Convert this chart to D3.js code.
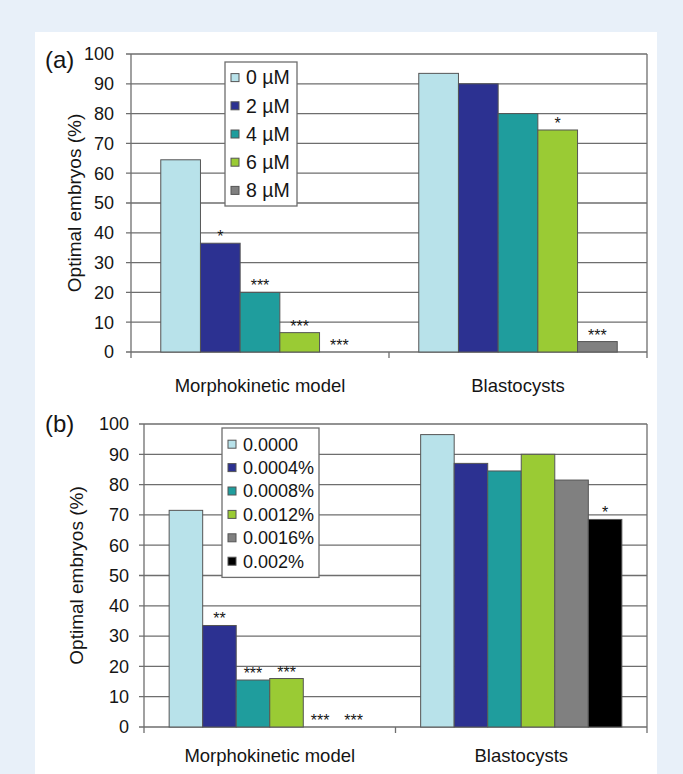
<!DOCTYPE html>
<html>
    <head>
        <meta charset="utf-8">
        <script src="https://d3js.org/d3.v7.min.js"></script>
        <title>Optimal embryos</title>
        <style>
            body {margin: 0; background-color: #e8f0f9;}
            text {font-family: "Liberation Sans", Arial, sans-serif; fill: #151515;}
        </style>
    </head>
    <body>
        <script>
            // data
            const categories = ['Morphokinetic model', 'Blastocysts']
            const yTicks = [0, 10, 20, 30, 40, 50, 60, 70, 80, 90, 100]

            const seriesA = ['0 µM', '2 µM', '4 µM', '6 µM', '8 µM']
            const valuesA = [[64.5, 93.5], [36.5, 90], [20, 80], [6.5, 74.5], [0, 3.5]]
            const starsA = [['', ''], ['*', ''], ['***', ''], ['***', '*'], ['***', '***']]

            const seriesB = ['0.0000', '0.0004%', '0.0008%', '0.0012%', '0.0016%', '0.002%']
            const valuesB = [[71.5, 96.5], [33.5, 87], [15.5, 84.5], [16, 90], [0, 81.5], [0, 68.5]]
            const starsB = [['', ''], ['**', ''], ['***', ''], ['***', ''], ['***', ''], ['***', '*']]

            const colors = ['#b8e2ea', '#2c3191', '#1f9d9d', '#9acb34', '#808080', '#000000']

            const width = 683
            const height = 774
            const gridColor = '#6e6e6e'
            const edgeColor = '#555'

            const svg = d3.select('body')
                .append('svg')
                    .attr('width', width)
                    .attr('height', height)

            svg.append('rect')
                .attr('width', width).attr('height', height)
                .attr('fill', '#e8f0f9')
            svg.append('rect')
                .attr('x', 35).attr('y', 32)
                .attr('width', 622).attr('height', height - 32)
                .attr('fill', 'white')

            const drawPanel = (p) => {
                const g = svg.append('g')
                const y = d3.scaleLinear().domain([0, 100]).range([p.bottom, p.top])
                const x0 = d3.scaleBand().domain(categories).range([p.left, p.right])
                const x1 = d3.scaleBand()
                    .domain(p.series)
                    .range([0, x0.bandwidth()])
                    .paddingOuter(0.75)

                // gridlines + left ticks
                g.selectAll('.grid')
                    .data(yTicks)
                    .enter()
                    .append('line')
                        .attr('x1', p.left - 5)
                        .attr('x2', p.right)
                        .attr('y1', d => y(d))
                        .attr('y2', d => y(d))
                        .attr('stroke', gridColor)
                        .attr('stroke-width', 1.3)

                g.selectAll('.ytick')
                    .data(yTicks)
                    .enter()
                    .append('text')
                        .attr('x', p.left - p.labelGap)
                        .attr('y', d => y(d))
                        .attr('dy', '0.35em')
                        .attr('text-anchor', 'end')
                        .attr('font-size', 18)
                        .text(d => d)

                // left axis, right border and category ticks
                const vx = [p.left, x0(categories[1]), p.right]
                g.selectAll('.vline')
                    .data(vx)
                    .enter()
                    .append('line')
                        .attr('x1', d => d)
                        .attr('x2', d => d)
                        .attr('y1', (d, i) => i === 1 ? y(0) : y(100))
                        .attr('y2', y(0) + 6)
                        .attr('stroke', gridColor)
                        .attr('stroke-width', 1.3)

                // bars
                p.series.forEach((s, si) => {
                    const rows = categories.map((c, ci) => ({c: c, v: p.values[si][ci], star: p.stars[si][ci]}))
                    const sg = g.append('g')
                    sg.selectAll('rect')
                        .data(rows.filter(d => d.v > 0))
                        .enter()
                        .append('rect')
                            .attr('x', d => x0(d.c) + x1(s))
                            .attr('y', d => y(d.v))
                            .attr('width', x1.bandwidth())
                            .attr('height', d => y(0) - y(d.v))
                            .attr('fill', colors[si])
                            .attr('stroke', edgeColor)
                            .attr('stroke-width', 1)
                    sg.selectAll('text')
                        .data(rows.filter(d => d.star))
                        .enter()
                        .append('text')
                            .attr('x', d => x0(d.c) + x1(s) + x1.bandwidth() / 2)
                            .attr('y', d => y(d.v) - 1)
                            .attr('text-anchor', 'middle')
                            .attr('font-size', 16)
                            .text(d => d.star)
                })

                // category labels
                g.selectAll('.cat')
                    .data(categories)
                    .enter()
                    .append('text')
                        .attr('x', d => x0(d) + x0.bandwidth() / 2)
                        .attr('y', p.catY)
                        .attr('text-anchor', 'middle')
                        .attr('font-size', 18.5)
                        .text(d => d)

                // y title
                g.append('text')
                    .attr('transform', `translate(${p.titleX},${(p.top + p.bottom) / 2}) rotate(-90)`)
                    .attr('dy', '0.35em')
                    .attr('text-anchor', 'middle')
                    .attr('font-size', 19)
                    .text('Optimal embryos (%)')

                // panel letter
                g.append('text')
                    .attr('x', 45)
                    .attr('y', p.letterY)
                    .attr('font-size', 24)
                    .text(p.letter)

                // legend
                const L = p.legend
                const lg = g.append('g').attr('transform', `translate(${L.x},${L.y})`)
                lg.append('rect')
                    .attr('width', L.w)
                    .attr('height', p.series.length * L.step + 2 * L.pad)
                    .attr('fill', 'white')
                    .attr('stroke', gridColor)
                    .attr('stroke-width', 1.3)
                const items = lg.selectAll('.item')
                    .data(p.series)
                    .enter()
                    .append('g')
                        .attr('transform', (d, i) => `translate(0,${L.pad + L.step * (i + 0.5)})`)
                items.append('rect')
                    .attr('x', 6).attr('y', -4)
                    .attr('width', 8).attr('height', 8)
                    .attr('fill', (d, i) => colors[i])
                    .attr('stroke', edgeColor)
                items.append('text')
                    .attr('x', 21)
                    .attr('dy', '0.35em')
                    .attr('font-size', L.font)
                    .text(d => d)
            }

            drawPanel({
                letter: '(a)', letterY: 68,
                series: seriesA, values: valuesA, stars: starsA,
                left: 131, right: 647, top: 54, bottom: 352,
                labelGap: 17, titleX: 74, catY: 392,
                legend: {x: 225, y: 62, w: 72, step: 28.2, pad: 1.5, font: 19.5}
            })

            drawPanel({
                letter: '(b)', letterY: 432,
                series: seriesB, values: valuesB, stars: starsB,
                left: 144, right: 647, top: 424, bottom: 727,
                labelGap: 15, titleX: 76, catY: 762,
                legend: {x: 222, y: 428, w: 97, step: 23.4, pad: 4.5, font: 18}
            })
        </script>
    </body>
</html>
